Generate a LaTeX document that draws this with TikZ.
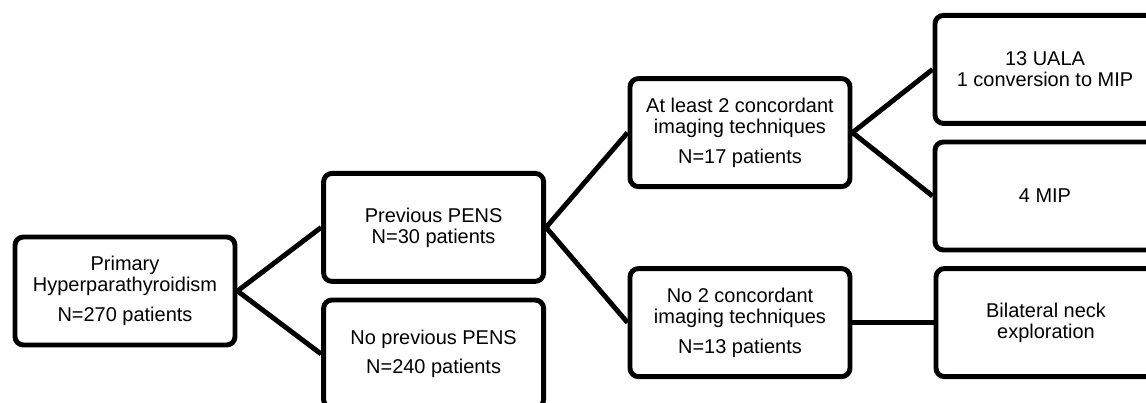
\documentclass[tikz,border=0pt]{standalone}
\usepackage{fontspec}
\setmainfont{Liberation Sans}
\begin{document}
\begin{tikzpicture}[
	box/.style={draw, line width=3.5pt, rounded corners=6pt, fill=white, minimum width=5.5cm, minimum height=2.7cm, align=center, font=\fontsize{14.2}{15}\selectfont},
	link/.style={line width=3.5pt}]
	\useasboundingbox (0,0) rectangle (28.65,10.075);
	\clip (0,0) rectangle (28.65,10.075);

	\node[box] (prim) at (3.125, 2.8) {Primary\\Hyperparathyroidism\\[6pt]N=270 patients};

	\node[box] (prev) at (10.84, 4.39) {Previous PENS\\N=30 patients};
	\node[box] (noprev) at (10.84, 1.225) {No previous PENS\\[6pt]N=240 patients};

	\node[box] (atleast) at (18.5, 6.76) {At least 2 concordant\\imaging techniques\\[6pt]N=17 patients};
	\node[box] (notwo) at (18.5, 2.01) {No 2 concordant\\imaging techniques\\[6pt]N=13 patients};

	\node[box] (uala) at (26.125, 8.34) {13 UALA\\1 conversion to MIP};
	\node[box] (mip) at (26.125, 5.175) {4 MIP};
	\node[box] (bilat) at (26.15, 2.01) {Bilateral neck\\exploration};

	\draw[link] (prim.east) -- (prev.west);
	\draw[link] (prim.east) -- (noprev.west);
	\draw[link] (prev.east) -- (atleast.west);
	\draw[link] (prev.east) -- (notwo.west);
	\draw[link] (atleast.east) -- (uala.west);
	\draw[link] (atleast.east) -- (mip.west);
	\draw[link] (notwo.east) -- (bilat.west);
\end{tikzpicture}
\end{document}
